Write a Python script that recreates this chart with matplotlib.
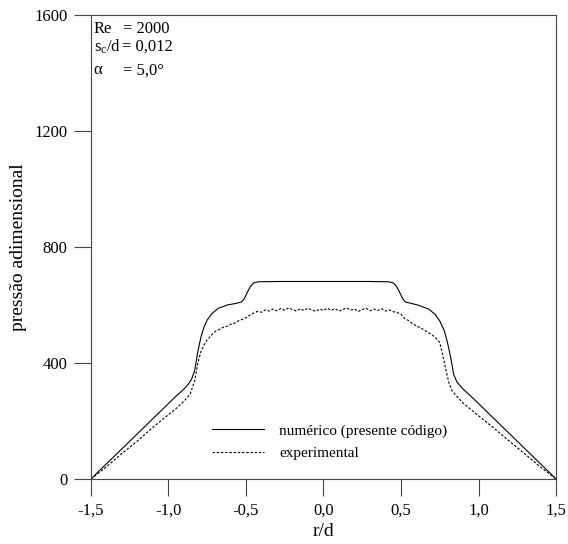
import matplotlib
matplotlib.use("Agg")
import matplotlib.pyplot as plt

plt.rcParams['font.family'] = ['Liberation Serif', 'DejaVu Serif']
plt.rcParams['mathtext.fontset'] = 'custom'
plt.rcParams['mathtext.rm'] = 'Liberation Serif'
plt.rcParams['mathtext.it'] = 'Liberation Serif:italic'

# numerico (presente codigo)
num_x = [-1.50, -1.30, -1.10, -0.95, -0.90, -0.87, -0.85, -0.83, -0.81, -0.79, -0.77,
         -0.75, -0.72, -0.68, -0.62, -0.57, -0.53, -0.51, -0.49, -0.47, -0.45, -0.42,
         -0.30, 0.00, 0.30, 0.42, 0.45, 0.47, 0.49, 0.51, 0.53, 0.57, 0.62, 0.68, 0.72,
         0.75, 0.78, 0.80, 0.82, 0.84, 0.86, 0.90, 0.95, 1.10, 1.30, 1.50]
num_y = [0, 104, 208, 286, 310, 328, 345, 375, 440, 490, 525,
         548, 570, 588, 600, 605, 610, 622, 645, 665, 676, 680,
         681, 681, 681, 680, 676, 665, 645, 622, 610, 605, 598, 585, 568,
         545, 510, 470, 420, 360, 335, 310, 286, 208, 104, 0]

# experimental
exp_x = [-1.50, -1.40, -1.30, -1.20, -1.10, -1.00, -0.95, -0.90, -0.86, -0.83, -0.81,
         -0.79, -0.77, -0.75, -0.72, -0.70, -0.675, -0.65, -0.625, -0.60, -0.575, -0.55,
         -0.525, -0.50, -0.475, -0.45, -0.425, -0.40, -0.375, -0.35, -0.325, -0.30,
         -0.275, -0.25, -0.225, -0.20, -0.175, -0.15, -0.125, -0.10, -0.075, -0.05,
         -0.025, 0.0, 0.025, 0.05, 0.075, 0.10, 0.125, 0.15, 0.175, 0.20, 0.225, 0.25,
         0.275, 0.30, 0.325, 0.35, 0.375, 0.40, 0.425, 0.45, 0.475, 0.50, 0.525, 0.55,
         0.575, 0.60, 0.625, 0.65, 0.675, 0.70, 0.725, 0.75, 0.77, 0.79, 0.81, 0.83,
         0.86, 0.90, 1.00, 1.10, 1.20, 1.30, 1.40, 1.50]
exp_y = [0, 42, 88, 131, 178, 222, 243, 268, 292, 340, 400,
         440, 462, 480, 497, 508, 515, 522, 526, 533, 537, 545,
         550, 556, 565, 572, 578, 575, 583, 579, 586, 580,
         588, 582, 590, 584, 579, 587, 581, 589, 583, 578,
         586, 581, 589, 582, 587, 579, 585, 590, 582, 586, 578, 584,
         589, 580, 586, 581, 587, 579, 583, 577, 574, 568, 553, 546,
         535, 528, 521, 514, 505, 497, 486, 470, 425, 375, 330, 303,
         285, 262, 218, 175, 130, 86, 41, 0]

x_ticks = [-1.5, -1.0, -0.5, 0.0, 0.5, 1.0, 1.5]
x_labels = ['-1,5', '-1,0', '-0,5', '0,0', '0,5', '1,0', '1,5']
y_ticks = [0, 400, 800, 1200, 1600]
y_labels = ['0', '400', '800', '1200', '1600']

fig = plt.figure(figsize=(5.68, 5.44), dpi=100)
ax = fig.add_axes([0.160, 0.1195, 0.819, 0.853])

ax.plot(num_x, num_y, color='black', lw=0.8, label='numérico (presente código)')
ax.plot(exp_x, exp_y, color='black', lw=0.8, linestyle=(0, (2.2, 1.6)), label='experimental')

ax.set_xlim(-1.5, 1.5)
ax.set_ylim(0, 1600)
ax.set_xticks(x_ticks)
ax.set_xticklabels(x_labels)
ax.set_yticks(y_ticks)
ax.set_yticklabels(y_labels)
ax.tick_params(direction='out', length=12, width=0.8, labelsize=12, color='#444444')
ax.tick_params(axis='x', pad=5)
ax.tick_params(axis='y', pad=5)
for s in ax.spines.values():
    s.set_linewidth(0.8)
    s.set_color('#444444')

ax.set_xlabel('r/d', fontsize=14, labelpad=3)
ax.set_ylabel('pressão adimensional', fontsize=14, labelpad=5)

ax.text(0.006, 0.970, 'Re', transform=ax.transAxes, fontsize=12, va='center')
ax.text(0.068, 0.970, '= 2000', transform=ax.transAxes, fontsize=12, va='center')
ax.text(0.006, 0.931, r's$_\mathrm{c}$/d', transform=ax.transAxes, fontsize=12, va='center')
ax.text(0.066, 0.931, '= 0,012', transform=ax.transAxes, fontsize=12, va='center')
ax.text(0.006, 0.881, 'α', transform=ax.transAxes, fontsize=12, va='center')
ax.text(0.068, 0.881, '= 5,0°', transform=ax.transAxes, fontsize=12, va='center')

ax.legend(loc='lower left', bbox_to_anchor=(0.26, 0.04), frameon=False, fontsize=11,
          handlelength=3.4, handletextpad=1.0, labelspacing=0.6, borderpad=0,
          borderaxespad=0)

fig.savefig('out.png', dpi=100)
